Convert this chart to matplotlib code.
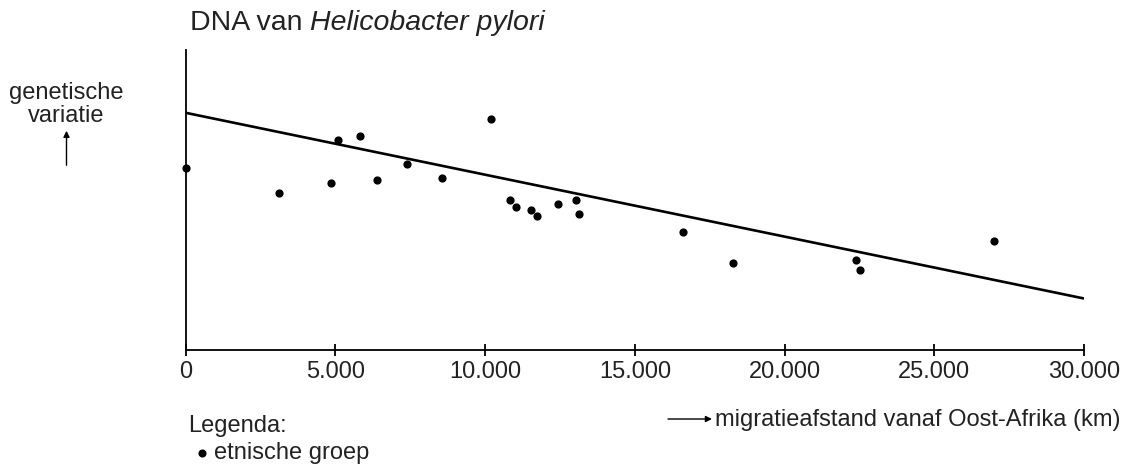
import matplotlib
matplotlib.use("Agg")
import matplotlib.pyplot as plt
from matplotlib.lines import Line2D

plt.rcParams["font.family"] = ["Liberation Sans", "DejaVu Sans"]

# ============================================================
# Data (y in arbitrary units)
# ============================================================
distance_km = [0, 3100, 4840, 5090, 5810, 6390, 7390, 8550, 10180,
               10820, 11020, 11520, 11720, 12430, 13040, 13130,
               16620, 18290, 22400, 22530, 27000]
variation = [182, 157, 167, 210, 214, 170, 186, 172, 231,
             150, 143, 140, 134, 146, 150, 136,
             118, 87, 90, 80, 109]

trend_x = [0, 30000]
trend_y = [236.7, 51]

xticks = [0, 5000, 10000, 15000, 20000, 25000, 30000]
xtick_labels = ["0", "5.000", "10.000", "15.000", "20.000", "25.000", "30.000"]

W, H = 1129, 466
fig = plt.figure(figsize=(W / 100, H / 100), dpi=100)
ax = fig.add_axes([185.7 / W, (H - 349.5) / H, (1084 - 185.7) / W, 300 / H])

ax.plot(trend_x, trend_y, color="black", lw=1.9, solid_capstyle="butt")
ax.scatter(distance_km, variation, s=24, color="black", zorder=3, clip_on=False)

ax.set_xlim(0, 30000)
ax.set_ylim(0, 300)
for side in ["top", "right"]:
    ax.spines[side].set_visible(False)
for side in ["left", "bottom"]:
    ax.spines[side].set_linewidth(1.3)

ax.set_xticks(xticks)
ax.set_xticklabels(xtick_labels, fontsize=17, color="#222222")
ax.tick_params(axis="x", direction="inout", length=8.5, width=1.3, pad=4)
ax.set_yticks([])

# ---- title with italic species name ----
t1 = fig.text(190 / W, 1 - 30 / H, "DNA van ", fontsize=20.5, va="baseline",
              ha="left", color="#222222")
fig.canvas.draw()
bb = t1.get_window_extent()
fig.text(bb.x1 / W, 1 - 30 / H, "Helicobacter pylori", fontsize=20.5,
         fontstyle="italic", va="baseline", ha="left", color="#222222")

# ---- y label with arrow ----
fig.text(66 / W, 1 - 99 / H, "genetische", fontsize=17, ha="center",
         va="baseline", color="#222222")
fig.text(66 / W, 1 - 122 / H, "variatie", fontsize=17, ha="center",
         va="baseline", color="#222222")
fig.add_artist(matplotlib.patches.FancyArrowPatch(
    (66.5 / W, 1 - 168 / H), (66.5 / W, 1 - 128 / H), transform=fig.transFigure,
    arrowstyle="-|>", mutation_scale=9, lw=1, color="black"))

# ---- x label with arrow ----
fig.add_artist(matplotlib.patches.FancyArrowPatch(
    (668 / W, 1 - 419 / H), (712 / W, 1 - 419 / H), transform=fig.transFigure,
    arrowstyle="-|>", mutation_scale=9, lw=1, color="black",
    shrinkA=0, shrinkB=0))
fig.text(715 / W, 1 - 426 / H, "migratieafstand vanaf Oost-Afrika (km)",
         fontsize=17, ha="left", va="baseline", color="#222222")

# ---- legend ----
fig.text(188 / W, 1 - 432 / H, "Legenda:", fontsize=17, ha="left",
         va="baseline", color="#222222")
fig.add_artist(Line2D([201.7 / W], [1 - 453 / H], transform=fig.transFigure,
                      marker="o", ms=4.8, color="black", lw=0))
fig.text(214 / W, 1 - 459 / H, "etnische groep", fontsize=17, ha="left",
         va="baseline", color="#222222")

fig.savefig("out.png", dpi=100)
